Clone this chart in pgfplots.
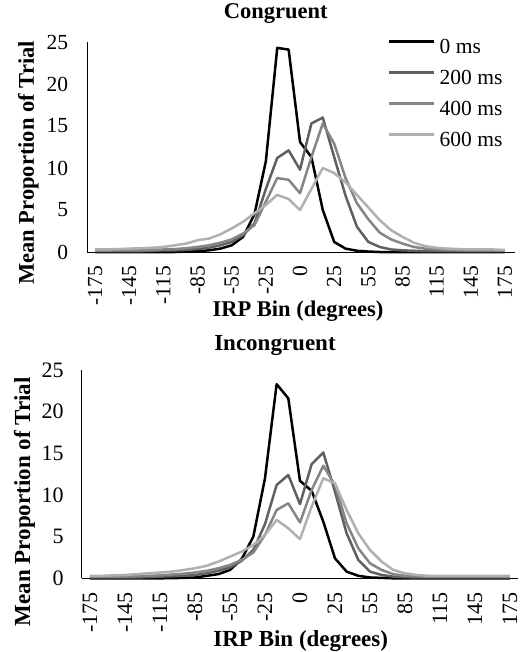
\documentclass[border=0pt]{standalone}
\usepackage{fontspec}
\setmainfont{Liberation Serif}
\usepackage{pgfplots}
\usepackage{pgfplotstable}
\pgfplotsset{compat=1.18}

\definecolor{gA}{RGB}{96,96,96}
\definecolor{gB}{RGB}{133,133,133}
\definecolor{gC}{RGB}{176,176,176}

% columns: bin index (0..36 = -175..-5, 0, 5..175), then 0/200/400/600 ms
\pgfplotstableread{
i  bin   m0    m200  m400  m600
0  -175  0.0   0.10  0.15  0.30
1  -165  0.0   0.10  0.15  0.30
2  -155  0.0   0.10  0.20  0.35
3  -145  0.0   0.10  0.20  0.40
4  -135  0.0   0.10  0.20  0.45
5  -125  0.0   0.15  0.25  0.50
6  -115  0.0   0.20  0.30  0.60
7  -105  0.0   0.20  0.35  0.80
8  -95   0.05  0.25  0.45  1.00
9  -85   0.10  0.35  0.60  1.40
10 -75   0.20  0.50  0.80  1.60
11 -65   0.40  0.80  1.10  2.10
12 -55   0.80  1.20  1.50  2.80
13 -45   1.80  2.00  2.20  3.60
14 -35   4.50  3.40  3.20  4.60
15 -25   10.8  7.50  6.00  5.60
16 -15   24.3  11.2  8.80  6.80
17 -5    24.1  12.1  8.60  6.30
18 0     13.1  9.80  7.00  5.00
19 5     11.3  15.3  11.3  7.50
20 15    5.00  16.0  15.3  10.0
21 25    1.20  11.3  12.9  9.40
22 35    0.40  6.70  8.80  8.30
23 45    0.15  3.00  5.80  6.80
24 55    0.05  1.20  3.90  5.30
25 65    0.0   0.60  2.30  3.80
26 75    0.0   0.30  1.50  2.60
27 85    0.0   0.20  1.00  1.80
28 95    0.0   0.15  0.60  1.10
29 105   0.0   0.10  0.40  0.70
30 115   0.0   0.10  0.30  0.50
31 125   0.0   0.10  0.25  0.40
32 135   0.0   0.10  0.20  0.35
33 145   0.0   0.10  0.20  0.30
34 155   0.0   0.10  0.20  0.30
35 165   0.0   0.10  0.20  0.30
36 175   0.0   0.10  0.20  0.25
}\congruent

\pgfplotstableread{
i  bin   m0    m200  m400  m600
0  -175  0.0   0.10  0.20  0.30
1  -165  0.0   0.10  0.20  0.30
2  -155  0.0   0.10  0.20  0.35
3  -145  0.0   0.10  0.20  0.40
4  -135  0.0   0.10  0.25  0.50
5  -125  0.0   0.15  0.30  0.60
6  -115  0.0   0.20  0.35  0.70
7  -105  0.02  0.25  0.45  0.80
8  -95   0.05  0.30  0.55  1.00
9  -85   0.10  0.40  0.70  1.20
10 -75   0.30  0.60  0.90  1.50
11 -65   0.50  0.90  1.20  2.00
12 -55   1.00  1.30  1.60  2.60
13 -45   2.30  2.10  2.20  3.20
14 -35   5.00  3.40  3.10  4.00
15 -25   12.0  6.50  5.20  5.20
16 -15   23.3  11.2  8.20  7.00
17 -5    21.6  12.4  9.00  6.00
18 0     11.7  8.90  6.70  4.70
19 5     10.5  13.7  10.6  8.60
20 15    6.80  15.1  13.5  12.0
21 25    2.40  10.4  11.2  11.4
22 35    0.80  5.40  6.60  8.20
23 45    0.30  2.20  3.60  5.40
24 55    0.10  0.80  1.80  3.40
25 65    0.05  0.40  1.00  2.00
26 75    0.0   0.20  0.50  1.00
27 85    0.0   0.15  0.30  0.60
28 95    0.0   0.10  0.25  0.40
29 105   0.0   0.10  0.20  0.30
30 115   0.0   0.10  0.20  0.30
31 125   0.0   0.10  0.20  0.30
32 135   0.0   0.10  0.20  0.30
33 145   0.0   0.10  0.20  0.30
34 155   0.0   0.10  0.20  0.30
35 165   0.0   0.10  0.20  0.30
36 175   0.0   0.10  0.20  0.30
}\incongruent

\pgfplotsset{
  irp/.style={
    scale only axis,
    axis x line=bottom, axis y line=left,
    axis line style={-, line width=0.8pt},
    ymin=0, ymax=25,
    xtick={0,3,...,36},
    xticklabels={-175,-145,-115,-85,-55,-25,0,25,55,85,115,145,175},
    ytick={0,5,...,25},
    major tick length=0pt,
    /pgf/number format/assume math mode=true,
    tick label style={font=\fontsize{21.5}{22}\selectfont},
    xticklabel style={rotate=90, anchor=east, inner sep=0pt},
    yticklabel style={anchor=east, inner sep=0pt},
    label style={font=\fontsize{22.5}{24}\selectfont\bfseries},
    title style={font=\fontsize{22.5}{24}\selectfont\bfseries},
    clip=false,
    every axis plot/.append style={line width=2.5pt, line join=round, no marks},
  },
}

\begin{document}
\begin{tikzpicture}
\path[use as bounding box] (0,0) rectangle (526pt,-652pt);

\begin{axis}[irp,
    at={(87.3pt,-252pt)}, anchor=south west,
    width=427.7pt, height=210pt,
    xmin=-0.68, xmax=36.88,
    xticklabel shift=14pt, yticklabel shift=19pt,
    title={Congruent},
    title style={at={(axis description cs:0.4407,1.081)}, anchor=base},
    xlabel={IRP Bin (degrees)},
    xlabel style={at={(axis description cs:0.4926,-0.308)}, anchor=base},
    ylabel={Mean Proportion of Trial},
    ylabel style={at={(axis description cs:-0.125,0.424)}, anchor=base},
    legend style={draw=none, fill=none, inner sep=0pt,
      at={(axis description cs:0.703,1.0157)}, anchor=north west,
      row sep=12pt, column sep=4pt,
      font=\fontsize{21.5}{22}\selectfont,
      nodes={inner sep=0pt, text height=15pt, text depth=4pt}},
    legend cell align=left,
    legend image code/.code={\draw[#1] (0pt,7pt) -- (45pt,7pt);},
]
\addplot[black] table[x=i, y=m0] {\congruent};
\addlegendentry{0 ms}
\addplot[gA] table[x=i, y=m200] {\congruent};
\addlegendentry{200 ms}
\addplot[gB] table[x=i, y=m400] {\congruent};
\addlegendentry{400 ms}
\addplot[gC] table[x=i, y=m600] {\congruent};
\addlegendentry{600 ms}
\end{axis}

\begin{axis}[irp,
    at={(81.7pt,-578.3pt)}, anchor=south west,
    width=436.3pt, height=208.3pt,
    xmin=-0.71, xmax=36.69,
    xticklabel shift=14pt, yticklabel shift=18pt,
    tick label style={font=\fontsize{22}{23}\selectfont},
    label style={font=\fontsize{23}{24}\selectfont\bfseries},
    title style={font=\fontsize{23}{24}\selectfont\bfseries},
    title={Incongruent},
    title style={at={(axis description cs:0.443,1.067)}, anchor=base},
    xlabel={IRP Bin (degrees)},
    xlabel style={at={(axis description cs:0.502,-0.325)}, anchor=base},
    ylabel={Mean Proportion of Trial},
    ylabel style={at={(axis description cs:-0.118,0.368)}, anchor=base},
]
\addplot[black] table[x=i, y=m0] {\incongruent};
\addplot[gA] table[x=i, y=m200] {\incongruent};
\addplot[gB] table[x=i, y=m400] {\incongruent};
\addplot[gC] table[x=i, y=m600] {\incongruent};
\end{axis}
\end{tikzpicture}
\end{document}
